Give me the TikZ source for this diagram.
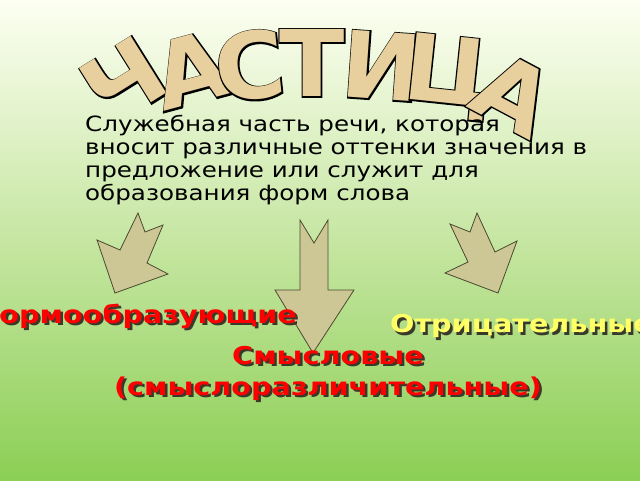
\documentclass[tikz,border=0pt]{standalone}
\usepackage{fontspec}
\setmainfont{DejaVu Sans}
\newfontfamily\widefont[FakeStretch=1.17]{DejaVu Sans}
\newfontfamily\titlefont[FakeStretch=1.04]{DejaVu Sans Bold}
\newfontfamily\fatfont[FakeStretch=1.04,FakeBold=3]{DejaVu Sans Bold}
\usepackage{xcolor}
\usepackage{tikz}
\definecolor{bgtop}{HTML}{FDFFF2}
\definecolor{bgmid}{HTML}{C6E6A2}
\definecolor{bgbot}{HTML}{8CCF55}
\definecolor{lettertan}{HTML}{E8D09E}
\definecolor{arrowfill}{HTML}{CCC795}
\definecolor{arrowline}{HTML}{4A4A30}
\definecolor{labelred}{HTML}{FF0000}
\definecolor{labelyellow}{HTML}{FFFF66}
\definecolor{shadowcol}{HTML}{3A3A2A}

\tikzset{
  titleletter/.style={inner sep=0pt,font=\fontsize{92}{92}\selectfont},
  kindlabel/.style={inner sep=0pt,font=\widefont\bfseries\fontsize{24.5}{31}\selectfont,align=center},
  arrowshape/.style={draw=arrowline,fill=arrowfill,line width=0.8pt,line join=miter}
}
% tan letter over a fattened black copy, which gives the outline
\newcommand{\titlechar}[1]{\rlap{\fatfont\color{black}#1}{\titlefont\color{lettertan}#1}}

\begin{document}
\begin{tikzpicture}[x=1pt,y=1pt]
            \useasboundingbox (0,0) rectangle (640,480);
            % background
            \shade[top color=bgtop,bottom color=bgmid,middle color=bgtop!50!bgmid] (0,240) rectangle (640,480);
            \shade[top color=bgmid,bottom color=bgbot] (0,0) rectangle (640,240.5);

            % title along an arc
            \node[titleletter,rotate=32] (ch) at (124,399) {\titlechar{Ч}};
            \node[titleletter,rotate=15] (a1) at (191,410) {\titlechar{А}};
            \node[titleletter,rotate=6] (s) at (250,414) {\titlechar{С}};
            \node[titleletter,rotate=0] (t) at (312,417) {\titlechar{Т}};
            \node[titleletter,rotate=-4] (i) at (382,414) {\titlechar{И}};
            \node[titleletter,rotate=-6] (ts) at (448,403) {\titlechar{Ц}};
            \node[titleletter,rotate=-28] (a2) at (514,386) {\titlechar{А}};

            % definition
            \node[anchor=north west,align=left,inner sep=0pt,font=\widefont\fontsize{21}{23}\selectfont] (def) at (85,365)
                {Служебная часть речи, которая\\вносит различные оттенки значения в\\предложение или служит для\\образования форм слова};

            % arrows
            \draw[arrowshape] (115,187) -- (168,206) -- (147,217) -- (163,255) -- (145,248) -- (138,267) -- (120,230) -- (97,240) -- cycle;
            \draw[arrowshape] (300,260) -- (314,237) -- (328,260) -- (328,190) -- (354,190) -- (313,127) -- (275,190) -- (300,190) -- cycle;
            \draw[arrowshape] (477,267) -- (495,228) -- (517,239) -- (498,187) -- (445,207) -- (468,218) -- (450,256) -- (470,248) -- cycle;

            % kinds of particles
            \node[kindlabel,text=shadowcol,anchor=east] at (299.5,161.5) {Формообразующие};
            \node[kindlabel,text=labelred,anchor=east] (form) at (297,164) {Формообразующие};
            \node[kindlabel,text=shadowcol,anchor=west] at (392.5,151.5) {Отрицательные};
            \node[kindlabel,text=labelyellow,anchor=west] (neg) at (390,154) {Отрицательные};
            \node[kindlabel,text=shadowcol] at (330.5,104.5) {Смысловые\\(смыслоразличительные)};
            \node[kindlabel,text=labelred] (sense) at (328,107) {Смысловые\\(смыслоразличительные)};
        \end{tikzpicture}
\end{document}
